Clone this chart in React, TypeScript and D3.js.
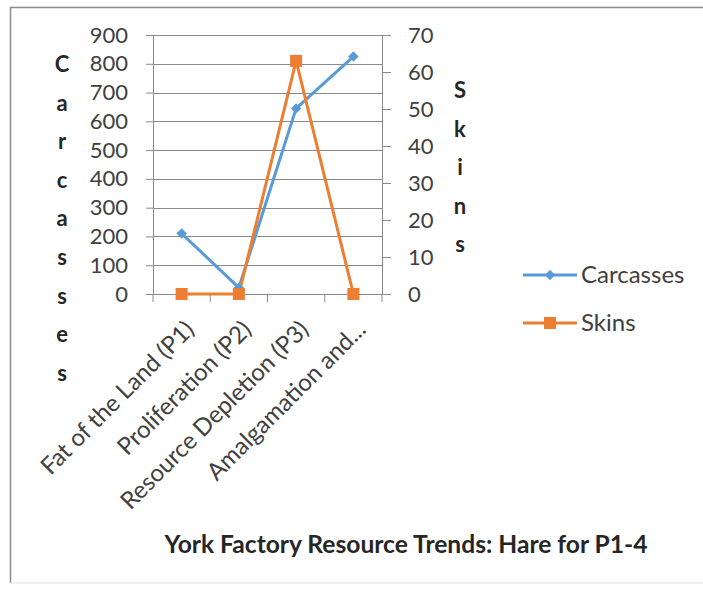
import React, { useEffect, useRef } from "react";
import * as d3 from "d3";

const categories = [
  "Fat of the Land (P1)",
  "Proliferation (P2)",
  "Resource Depletion (P3)",
  "Amalgamation and...",
];
const carcasses = [210, 22, 645, 825];
const skins = [0, 0, 63, 0];
const leftTicks = [0, 100, 200, 300, 400, 500, 600, 700, 800, 900];
const rightTicks = [0, 10, 20, 30, 40, 50, 60, 70];
const seriesNames = ["Carcasses", "Skins"];
const title = "York Factory Resource Trends: Hare for P1-4";
const leftTitle = "Carcasses";
const rightTitle = "Skins";

const W = 703;
const H = 590;
const FONT = "Lato, 'Open Sans', sans-serif";
const BLUE = "#5B9BD5";
const ORANGE = "#ED7D31";
const GRID = "#8a8a8a";

export default function App() {
  const ref = useRef<SVGSVGElement>(null);

  useEffect(() => {
    const svg = d3.select(ref.current);
    svg.selectAll("*").remove();

    const left = 153, right = 382, top = 35, bottom = 294;
    const x = d3.scaleBand<string>().domain(categories).range([left, right]);
    const yL = d3.scaleLinear().domain([0, 900]).range([bottom, top]);
    const yR = d3.scaleLinear().domain([0, 70]).range([bottom, top]);
    const cx = (c: string) => (x(c) as number) + x.bandwidth() / 2;

    // border
    svg.append("line").attr("x1", 10).attr("x2", W).attr("y1", 7.5).attr("y2", 7.5)
      .attr("stroke", "#8c8c8c").attr("stroke-width", 1.5);
    svg.append("line").attr("x1", 10.5).attr("x2", 10.5).attr("y1", 7).attr("y2", 583)
      .attr("stroke", "#8c8c8c").attr("stroke-width", 1.5);
    svg.append("line").attr("x1", 10).attr("x2", W).attr("y1", 583).attr("y2", 583)
      .attr("stroke", "#e2e2e2").attr("stroke-width", 1);

    // gridlines
    svg.append("g").selectAll("line").data(leftTicks.filter((d) => d > 0)).join("line")
      .attr("x1", left).attr("x2", right)
      .attr("y1", (d) => Math.round(yL(d)) + 0.5).attr("y2", (d) => Math.round(yL(d)) + 0.5)
      .attr("stroke", GRID).attr("stroke-width", 1);

    // left axis
    const gL = svg.append("g").attr("transform", `translate(${left},0)`)
      .call(d3.axisLeft(yL).tickValues(leftTicks).tickSize(7).tickPadding(18).tickSizeOuter(0));
    gL.select(".domain").attr("stroke", GRID);
    gL.selectAll(".tick line").attr("stroke", GRID);
    gL.selectAll("text").attr("font-family", FONT).attr("font-size", 22).attr("fill", "#404040");

    // right axis
    const gR = svg.append("g").attr("transform", `translate(${right},0)`)
      .call(d3.axisRight(yR).tickValues(rightTicks).tickSize(9).tickPadding(17).tickSizeOuter(0));
    gR.select(".domain").attr("stroke", GRID);
    gR.selectAll(".tick line").attr("stroke", GRID);
    gR.selectAll("text").attr("font-family", FONT).attr("font-size", 22).attr("fill", "#404040");

    // bottom axis
    const gB = svg.append("g").attr("transform", `translate(0,${bottom})`);
    gB.append("line").attr("x1", left).attr("x2", right).attr("y1", 0.5).attr("y2", 0.5).attr("stroke", GRID);
    const bounds = [...categories.map((c) => x(c) as number), right];
    gB.selectAll("line.tk").data(bounds).join("line").attr("class", "tk")
      .attr("x1", (d) => d).attr("x2", (d) => d).attr("y1", 0).attr("y2", 8).attr("stroke", GRID);
    const gBL = svg.append("g").attr("transform", `translate(0,${bottom})`)
      .call(d3.axisBottom(x).tickSize(0).tickPadding(0));
    gBL.select(".domain").remove();
    gBL.selectAll("text")
      .attr("font-family", FONT).attr("font-size", 24).attr("fill", "#404040")
      .attr("text-anchor", "end").attr("dy", null).attr("y", 0)
      .attr("transform", "translate(14,37) rotate(-45)");

    // lines
    const lineL = d3.line<number>().x((_, i) => cx(categories[i])).y((d) => yL(d));
    const lineR = d3.line<number>().x((_, i) => cx(categories[i])).y((d) => yR(d));
    svg.append("path").datum(carcasses).attr("d", lineL).attr("fill", "none")
      .attr("stroke", BLUE).attr("stroke-width", 3);
    svg.append("path").datum(skins).attr("d", lineR).attr("fill", "none")
      .attr("stroke", ORANGE).attr("stroke-width", 3);
    svg.append("g").selectAll("path").data(carcasses).join("path")
      .attr("d", d3.symbol(d3.symbolDiamond2, 70)() as string)
      .attr("transform", (d, i) => `translate(${cx(categories[i])},${yL(d)})`)
      .attr("fill", BLUE);
    svg.append("g").selectAll("rect").data(skins).join("rect")
      .attr("x", (_, i) => cx(categories[i]) - 6).attr("y", (d) => yR(d) - 6)
      .attr("width", 12).attr("height", 12).attr("fill", ORANGE);

    // axis titles (stacked letters)
    svg.append("g").selectAll("text").data(leftTitle.split("")).join("text")
      .attr("x", 62).attr("y", (_, i) => 72 + i * 38.6)
      .attr("text-anchor", "middle").attr("font-family", FONT).attr("font-weight", "bold")
      .attr("font-size", 22).attr("fill", "#262626").text((d) => d);
    svg.append("g").selectAll("text").data(rightTitle.split("")).join("text")
      .attr("x", 460).attr("y", (_, i) => 98 + i * 38.6)
      .attr("text-anchor", "middle").attr("font-family", FONT).attr("font-weight", "bold")
      .attr("font-size", 22).attr("fill", "#262626").text((d) => d);

    // legend
    const leg = svg.append("g");
    const legY = [275, 323];
    leg.selectAll("line").data(seriesNames).join("line")
      .attr("x1", 523).attr("x2", 577).attr("y1", (_, i) => legY[i]).attr("y2", (_, i) => legY[i])
      .attr("stroke", (_, i) => (i === 0 ? BLUE : ORANGE)).attr("stroke-width", 3);
    leg.append("path").attr("d", d3.symbol(d3.symbolDiamond2, 70)() as string)
      .attr("transform", `translate(550,${legY[0]})`).attr("fill", BLUE);
    leg.append("rect").attr("x", 544).attr("y", legY[1] - 6).attr("width", 12).attr("height", 12).attr("fill", ORANGE);
    leg.selectAll("text").data(seriesNames).join("text")
      .attr("x", 581).attr("y", (_, i) => legY[i] + 8)
      .attr("font-family", FONT).attr("font-size", 24).attr("fill", "#404040").text((d) => d);

    // title
    svg.append("text").attr("x", 406).attr("y", 553).attr("text-anchor", "middle")
      .attr("font-family", FONT).attr("font-weight", "bold").attr("font-size", 24.6)
      .attr("fill", "#262626").text(title);
  }, []);

  return (
    <svg ref={ref} width={W} height={H}
      style={{ position: "absolute", left: 0, top: 0, background: "#fff" }} />
  );
}
